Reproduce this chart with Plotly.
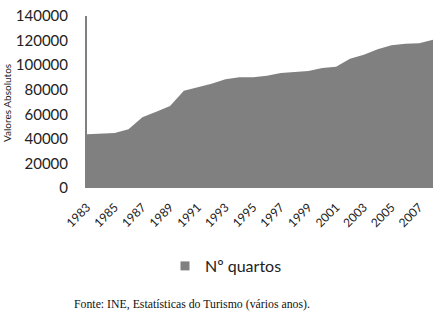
import plotly.graph_objects as go

years = list(range(1983, 2009))
quartos = [43700, 44200, 44800, 47800, 57500, 62100, 66700, 79200, 82000, 84900,
           88500, 90100, 90100, 91400, 93600, 94700, 95200, 97700, 98700, 105200,
           108500, 112900, 116100, 117500, 117800, 120700]
tick_years = list(range(1983, 2008, 2))
y_ticks = list(range(0, 140001, 20000))

W, H = 436, 314
L, R, T = 87, 3, 16
B = H - T - 172
pw, ph = W - L - R, H - T - B

def px(x):
    return (x - L) / pw

def py(y):
    return (H - B - y) / ph

fig = go.Figure()
fig.add_trace(go.Scatter(
    x=years, y=quartos, name="Nº quartos", mode="lines", showlegend=False,
    fill="tozeroy", fillcolor="#808080", line=dict(width=0, color="#808080"),
))
fig.add_trace(go.Scatter(
    x=[None], y=[None], name="Nº quartos", mode="markers",
    marker=dict(symbol="square", size=9, color="#808080"),
))
fig.update_layout(
    width=W, height=H, margin=dict(l=L, r=R, t=T, b=B),
    paper_bgcolor="white", plot_bgcolor="white",
    font=dict(family="Lato, Open Sans, sans-serif", color="#222"),
    showlegend=True,
    legend=dict(orientation="h", x=px(226), y=py(266), xanchor="center", yanchor="middle",
                itemwidth=30, font=dict(size=16, family="Lato, sans-serif", color="#222")),
    xaxis=dict(range=[1983, 2008], tickvals=tick_years, ticktext=[str(v) for v in tick_years],
               tickangle=-45, showgrid=False, zeroline=False, showline=False, automargin=False,
               tickfont=dict(size=12), ticks="", ticklabelstandoff=9, ticklabeloverflow="allow"),
    yaxis=dict(range=[0, 140000], tickvals=y_ticks, showgrid=False, zeroline=False,
               showline=True, linecolor="#808080", linewidth=2, ticks="", automargin=False,
               tickfont=dict(size=15), ticklabelstandoff=14, tickformat="d",
               ticklabeloverflow="allow"),
)
fig.add_annotation(text="Valores Absolutos", textangle=-90, x=px(7), y=py(103),
                   xref="paper", yref="paper", showarrow=False,
                   xanchor="center", yanchor="middle",
                   font=dict(size=10, family="Lato, sans-serif", color="#222"))
fig.add_annotation(text="Fonte: INE, Estatísticas do Turismo (vários anos).",
                   x=px(72), y=py(304), xref="paper", yref="paper", xanchor="left",
                   yanchor="middle", showarrow=False,
                   font=dict(size=11.8, family="Liberation Serif, serif", color="#111"))
fig.write_html("out.html", config={"displayModeBar": False},
               post_script="document.body.style.margin='0';")
